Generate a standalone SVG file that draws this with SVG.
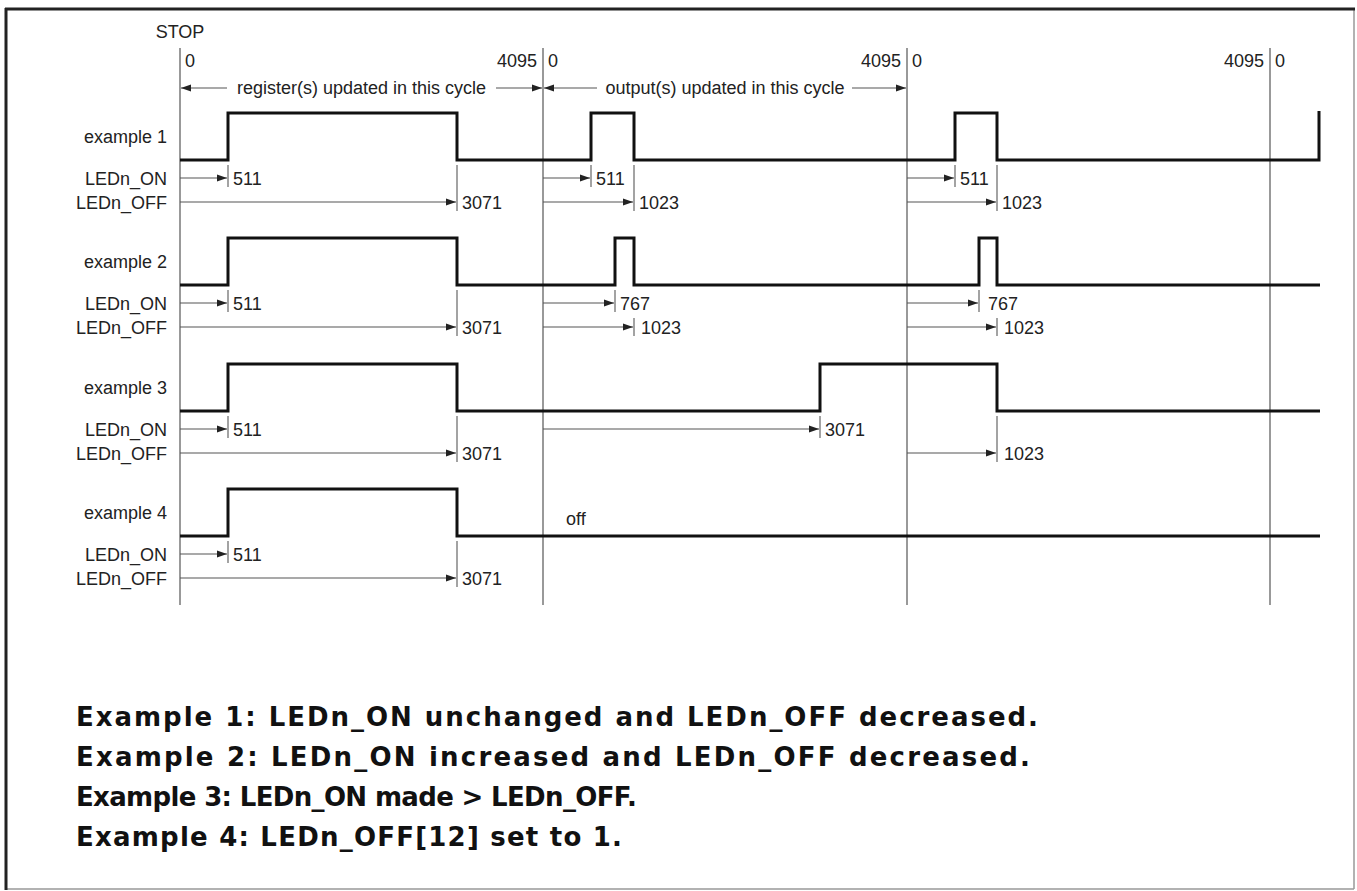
<svg xmlns="http://www.w3.org/2000/svg" width="1357" height="891" viewBox="0 0 1357 891">
<defs>
<style>
.t{font-family:"Liberation Sans",Arial,sans-serif;font-size:18px;fill:#222}
.e{text-anchor:end}
.m{text-anchor:middle}
.tr{fill:none;stroke:#111;stroke-width:3;stroke-linejoin:miter}
.dv{stroke:#777;stroke-width:1.5}
.ar{stroke:#555;stroke-width:1.2;fill:none}
.tk{stroke:#666;stroke-width:1.2}
.b{font-family:"DejaVu Sans",Lato,sans-serif;font-weight:bold;font-size:26px;fill:#111}
</style>
<marker id="ah" markerUnits="userSpaceOnUse" markerWidth="11" markerHeight="8" refX="10" refY="4" orient="auto">
<path d="M0,0.5 L10,4 L0,7.5 z" fill="#222"/>
</marker>
</defs>
<rect x="0" y="0" width="1357" height="891" fill="#fff"/>
<g id="frame">
<line x1="1354" y1="9" x2="1354" y2="889" stroke="#999" stroke-width="1.5"/>
<line x1="6" y1="889" x2="1354" y2="889" stroke="#999" stroke-width="1.5"/>
<line x1="5" y1="9" x2="1355" y2="9" stroke="#222" stroke-width="3"/>
<line x1="6" y1="8" x2="6" y2="890" stroke="#222" stroke-width="3"/>
</g>
<g id="axis">
<line class="dv" x1="180" y1="48" x2="180" y2="605"/>
<line class="dv" x1="543" y1="48" x2="543" y2="605"/>
<line class="dv" x1="907" y1="48" x2="907" y2="605"/>
<line class="dv" x1="1270" y1="48" x2="1270" y2="605"/>
<text class="t m" x="180" y="38">STOP</text>
<text class="t" x="185" y="67">0</text>
<text class="t e" x="537" y="67">4095</text>
<text class="t" x="548" y="67">0</text>
<text class="t e" x="901" y="67">4095</text>
<text class="t" x="912" y="67">0</text>
<text class="t e" x="1264" y="67">4095</text>
<text class="t" x="1275" y="67">0</text>
</g>
<g id="cycles">
<line class="ar" x1="227" y1="88" x2="181" y2="88" marker-end="url(#ah)"/>
<text class="t m" x="361.5" y="94">register(s) updated in this cycle</text>
<line class="ar" x1="496" y1="88" x2="542" y2="88" marker-end="url(#ah)"/>
<line class="ar" x1="597" y1="88" x2="544" y2="88" marker-end="url(#ah)"/>
<text class="t m" x="725" y="94">output(s) updated in this cycle</text>
<line class="ar" x1="852" y1="88" x2="906" y2="88" marker-end="url(#ah)"/>
</g>
<g id="example1">
<text class="t e" x="167" y="143">example 1</text>
<text class="t e" x="167" y="185">LEDn_ON</text>
<text class="t e" x="167" y="209">LEDn_OFF</text>
<polyline class="tr" points="180,160 228,160 228,113 457,113 457,160 591,160 591,113 634,113 634,160 955,160 955,113 997,113 997,160 1319,160 1319,111"/>
</g>
<g id="example2">
<text class="t e" x="167" y="268">example 2</text>
<text class="t e" x="167" y="310">LEDn_ON</text>
<text class="t e" x="167" y="334">LEDn_OFF</text>
<polyline class="tr" points="180,285 228,285 228,238 457,238 457,285 615,285 615,238 634,238 634,285 979,285 979,238 997,238 997,285 1320,285"/>
</g>
<g id="example3">
<text class="t e" x="167" y="394">example 3</text>
<text class="t e" x="167" y="436">LEDn_ON</text>
<text class="t e" x="167" y="460">LEDn_OFF</text>
<polyline class="tr" points="180,411 228,411 228,364 457,364 457,411 820,411 820,364 997,364 997,411 1320,411"/>
</g>
<g id="example4">
<text class="t e" x="167" y="519">example 4</text>
<text class="t e" x="167" y="561">LEDn_ON</text>
<text class="t e" x="167" y="585">LEDn_OFF</text>
<polyline class="tr" points="180,536 228,536 228,489 457,489 457,536 1320,536"/>
<text class="t" x="566" y="525">off</text>
</g>
<g id="connectors">
<line class="tk" x1="228" y1="165" x2="228" y2="187"/>
<line class="tk" x1="457" y1="165" x2="457" y2="211"/>
<line class="ar" x1="180" y1="178" x2="227" y2="178" marker-end="url(#ah)"/>
<line class="ar" x1="180" y1="202" x2="456" y2="202" marker-end="url(#ah)"/>
<text class="t" x="233" y="185">511</text>
<text class="t" x="462" y="209">3071</text>
<line class="tk" x1="591" y1="165" x2="591" y2="187"/>
<line class="tk" x1="634" y1="165" x2="634" y2="211"/>
<line class="ar" x1="543" y1="178" x2="590" y2="178" marker-end="url(#ah)"/>
<line class="ar" x1="543" y1="202" x2="633" y2="202" marker-end="url(#ah)"/>
<text class="t" x="596" y="185">511</text>
<text class="t" x="639" y="209">1023</text>
<line class="tk" x1="955" y1="165" x2="955" y2="187"/>
<line class="tk" x1="997" y1="165" x2="997" y2="211"/>
<line class="ar" x1="907" y1="178" x2="954" y2="178" marker-end="url(#ah)"/>
<line class="ar" x1="907" y1="202" x2="996" y2="202" marker-end="url(#ah)"/>
<text class="t" x="960" y="185">511</text>
<text class="t" x="1002" y="209">1023</text>
<line class="tk" x1="228" y1="290" x2="228" y2="312"/>
<line class="tk" x1="457" y1="290" x2="457" y2="336"/>
<line class="ar" x1="180" y1="303" x2="227" y2="303" marker-end="url(#ah)"/>
<line class="ar" x1="180" y1="327" x2="456" y2="327" marker-end="url(#ah)"/>
<text class="t" x="233" y="310">511</text>
<text class="t" x="462" y="334">3071</text>
<line class="tk" x1="615" y1="290" x2="615" y2="312"/>
<line class="tk" x1="634" y1="318" x2="634" y2="336"/>
<line class="ar" x1="543" y1="303" x2="614" y2="303" marker-end="url(#ah)"/>
<line class="ar" x1="543" y1="327" x2="633" y2="327" marker-end="url(#ah)"/>
<text class="t" x="620" y="310">767</text>
<text class="t" x="641" y="334">1023</text>
<line class="tk" x1="979" y1="290" x2="979" y2="312"/>
<line class="tk" x1="997" y1="318" x2="997" y2="336"/>
<line class="ar" x1="907" y1="303" x2="978" y2="303" marker-end="url(#ah)"/>
<line class="ar" x1="907" y1="327" x2="996" y2="327" marker-end="url(#ah)"/>
<text class="t" x="988" y="310">767</text>
<text class="t" x="1004" y="334">1023</text>
<line class="tk" x1="228" y1="416" x2="228" y2="438"/>
<line class="tk" x1="457" y1="416" x2="457" y2="462"/>
<line class="ar" x1="180" y1="429" x2="227" y2="429" marker-end="url(#ah)"/>
<line class="ar" x1="180" y1="453" x2="456" y2="453" marker-end="url(#ah)"/>
<text class="t" x="233" y="436">511</text>
<text class="t" x="462" y="460">3071</text>
<line class="tk" x1="820" y1="416" x2="820" y2="438"/>
<line class="ar" x1="543" y1="429" x2="819" y2="429" marker-end="url(#ah)"/>
<text class="t" x="825" y="436">3071</text>
<line class="tk" x1="997" y1="416" x2="997" y2="462"/>
<line class="ar" x1="907" y1="453" x2="996" y2="453" marker-end="url(#ah)"/>
<text class="t" x="1004" y="460">1023</text>
<line class="tk" x1="228" y1="541" x2="228" y2="563"/>
<line class="tk" x1="457" y1="541" x2="457" y2="587"/>
<line class="ar" x1="180" y1="554" x2="227" y2="554" marker-end="url(#ah)"/>
<line class="ar" x1="180" y1="578" x2="456" y2="578" marker-end="url(#ah)"/>
<text class="t" x="233" y="561">511</text>
<text class="t" x="462" y="585">3071</text>
</g>
<g id="notes">
<text class="b" x="76" y="726" textLength="962" lengthAdjust="spacing">Example 1: LEDn_ON unchanged and LEDn_OFF decreased.</text>
<text class="b" x="76" y="766" textLength="954" lengthAdjust="spacing">Example 2: LEDn_ON increased and LEDn_OFF decreased.</text>
<text class="b" x="76" y="806" textLength="561" lengthAdjust="spacing">Example 3: LEDn_ON made &gt; LEDn_OFF.</text>
<text class="b" x="76" y="846" textLength="546" lengthAdjust="spacing">Example 4: LEDn_OFF[12] set to 1.</text>
</g>
</svg>
